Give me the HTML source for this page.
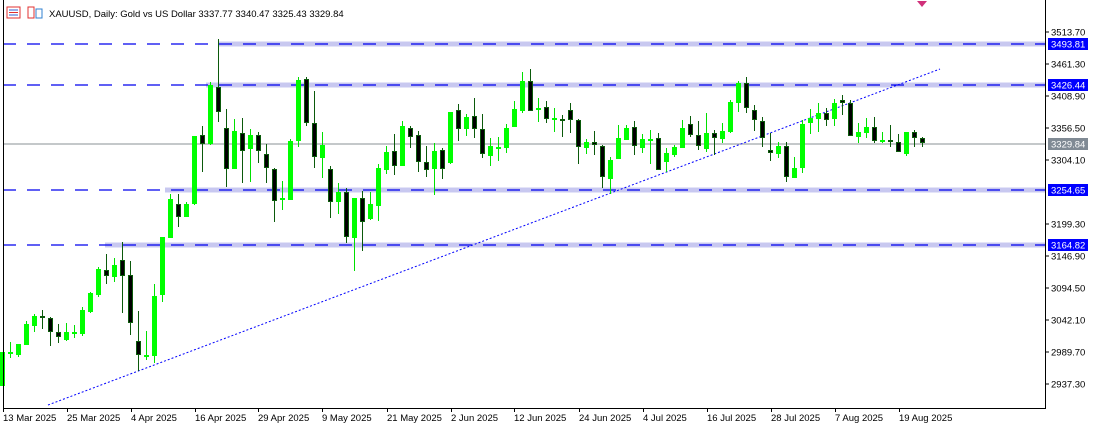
<!DOCTYPE html>
<html><head><meta charset="utf-8"><style>
html,body{margin:0;padding:0;background:#fff;width:1098px;height:424px;overflow:hidden}
svg{display:block}
text{font-family:"Liberation Sans",sans-serif;font-size:9.5px}
</style></head><body>
<svg width="1098" height="424" xmlns="http://www.w3.org/2000/svg">
<rect x="0" y="0" width="1098" height="424" fill="#fff"/>
<rect x="218" y="41.5" width="827" height="5" fill="#c8c8f0"/>
<rect x="206" y="82.5" width="839" height="5" fill="#c8c8f0"/>
<rect x="165" y="187.5" width="880" height="5" fill="#c8c8f0"/>
<rect x="105" y="242.5" width="940" height="5" fill="#c8c8f0"/>
<g stroke="#0000ee" stroke-width="1.3" stroke-dasharray="13,11">
<line x1="3" y1="44" x2="1045" y2="44"/>
<line x1="3" y1="85" x2="1045" y2="85"/>
<line x1="3" y1="190" x2="1045" y2="190"/>
<line x1="3" y1="245" x2="1045" y2="245"/>
</g>
<line x1="3" y1="144" x2="1045" y2="144" stroke="#8a9096" stroke-width="1"/>
<line x1="48" y1="405" x2="940" y2="69" stroke="#0000ff" stroke-width="1" stroke-dasharray="2,2"/>

<path fill="none" stroke="#00e000" stroke-width="1" d="M2.5 352V386M10.5 342V358M18.5 344V357M26.5 321V345M34.5 314V332M66.5 323V341M74.5 325V338M82.5 307V336M90.5 292V313M98.5 267V297M114.5 258V282M146.5 331V360M154.5 284V363M162.5 237V302M170.5 194V238M186.5 202V217M194.5 136V205M210.5 82V145M234.5 119V169M250.5 129V182M282.5 181V210M290.5 139V200M298.5 77V147M322.5 132V178M338.5 183V214M354.5 198V271M370.5 192V220M378.5 164V221M386.5 146V174M402.5 121V166M434.5 143V195M450.5 112V164M466.5 114V136M490.5 138V166M498.5 137V161M506.5 124V153M514.5 101V127M522.5 72V113M538.5 98V122M554.5 108V132M586.5 139V154M610.5 157V194M618.5 125V159M626.5 125V140M642.5 134V153M650.5 130V164M666.5 148V172M674.5 145V157M682.5 120V148M706.5 113V152M722.5 123V143M730.5 100V133M738.5 81V112M778.5 142V158M794.5 157V178M802.5 120V173M810.5 109V134M818.5 103V132M834.5 99V126M858.5 123V143M866.5 118V138M882.5 132V143M906.5 132V156"/>
<path fill="none" stroke="#00ff00" stroke-width="5" d="M2.5 352V386M10.5 352V354M18.5 344V355M26.5 324V345M34.5 316V326M66.5 332V340M74.5 332V334M82.5 310V334M90.5 293V312M98.5 269V295M114.5 265V277M146.5 355V357M154.5 296V356M162.5 237V295M170.5 199V238M186.5 204V217M194.5 136V204M210.5 85V144M234.5 131V169M250.5 135V149M282.5 198V200M290.5 141V200M298.5 80V141M322.5 145V158M338.5 192V202M354.5 198V238M370.5 204V219M378.5 168V206M386.5 152V170M402.5 126V166M434.5 151V169M450.5 112V163M466.5 117V129M490.5 146V156M498.5 147V149M506.5 128V148M514.5 109V127M522.5 81V111M538.5 108V110M554.5 118V120M586.5 142V148M610.5 160V179M618.5 138V159M626.5 128V140M642.5 139V148M650.5 139V141M666.5 153V162M674.5 147V155M682.5 128V148M706.5 133V149M722.5 131V139M730.5 102V132M738.5 83V103M778.5 146V154M794.5 168V178M802.5 124V168M810.5 118V123M818.5 113V119M834.5 103V119M858.5 132V137M866.5 127V133M882.5 140V142M906.5 132V154"/>

<path fill="none" stroke="#0b5a0b" stroke-width="1" d="M42.5 310V329M50.5 317V346M58.5 324V343M106.5 254V284M122.5 242V313M130.5 261V335M138.5 311V371M178.5 194V227M202.5 126V172M218.5 39V122M226.5 109V187M242.5 118V183M258.5 132V163M266.5 144V183M274.5 168V222M306.5 77V126M314.5 91V168M330.5 166V218M346.5 188V243M362.5 191V251M394.5 134V175M410.5 126V148M418.5 131V172M426.5 146V177M442.5 148V179M458.5 104V141M474.5 98V138M482.5 114V158M530.5 69V111M546.5 101V123M562.5 115V137M570.5 103V133M578.5 119V164M594.5 131V155M602.5 145V188M634.5 121V155M658.5 133V170M690.5 116V137M698.5 121V150M714.5 130V155M746.5 77V113M754.5 105V131M762.5 117V147M770.5 133V161M786.5 142V182M826.5 108V126M842.5 95V115M850.5 100V136M874.5 117V143M890.5 125V147M898.5 134V152M914.5 130V147M922.5 137V147"/>
<path fill="none" stroke="#0b5a0b" stroke-width="5" d="M42.5 316V318M50.5 318V332M58.5 332V337M106.5 270V276M122.5 260V276M130.5 275V323M138.5 341V355M178.5 204V217M202.5 135V144M218.5 87V112M226.5 128V169M242.5 133V151M258.5 135V151M266.5 154V168M274.5 169V201M306.5 79V123M314.5 123V157M330.5 169V202M346.5 192V237M362.5 198V222M394.5 151V166M410.5 128V137M418.5 135V162M426.5 162V170M442.5 150V169M458.5 110V129M474.5 116V129M482.5 129V154M530.5 81V111M546.5 107V119M562.5 119V121M570.5 110V120M578.5 120V147M594.5 142V145M602.5 146V177M634.5 127V146M658.5 138V170M690.5 124V135M698.5 135V146M714.5 133V138M746.5 83V108M754.5 110V120M762.5 121V138M770.5 150V153M786.5 146V177M826.5 113V120M842.5 100V103M850.5 103V136M874.5 127V141M890.5 140V142M898.5 142V152M914.5 132V138M922.5 138V143"/>
<path fill="none" stroke="#000" stroke-width="3" d="M50.5 319V331M58.5 333V336M106.5 271V275M122.5 261V275M130.5 276V322M138.5 342V354M178.5 205V216M202.5 136V143M218.5 88V111M226.5 129V168M242.5 134V150M258.5 136V150M266.5 155V167M274.5 170V200M306.5 80V122M314.5 124V156M330.5 170V201M346.5 193V236M362.5 199V221M394.5 152V165M410.5 129V136M418.5 136V161M426.5 163V169M442.5 151V168M458.5 111V128M474.5 117V128M482.5 130V153M530.5 82V110M546.5 108V118M570.5 111V119M578.5 121V146M594.5 143V144M602.5 147V176M634.5 128V145M658.5 139V169M690.5 125V134M698.5 136V145M714.5 134V137M746.5 84V107M754.5 111V119M762.5 122V137M770.5 151V152M786.5 147V176M826.5 114V119M842.5 101V102M850.5 104V135M874.5 128V140M898.5 143V151M914.5 133V137M922.5 139V142"/>

<line x1="3.5" y1="0" x2="3.5" y2="408" stroke="#000"/>
<line x1="1045.5" y1="0" x2="1045.5" y2="408" stroke="#000"/>
<line x1="3" y1="408.5" x2="1046" y2="408.5" stroke="#000"/>
<polygon points="917,1 927,1 922,7" fill="#d0307a"/>
<rect x="7" y="7" width="13" height="11" fill="#fff" stroke="#e03030"/>
<line x1="9" y1="10" x2="18" y2="10" stroke="#3060d0"/><line x1="9" y1="12.5" x2="18" y2="12.5" stroke="#e03030"/><line x1="9" y1="15" x2="18" y2="15" stroke="#3060d0"/>
<rect x="28" y="7" width="6" height="11" fill="#fff" stroke="#e03030"/>
<rect x="36" y="9" width="6" height="9" fill="#fff" stroke="#3080d0"/>
<text x="49" y="17" font-size="10.3">XAUUSD, Daily:  Gold vs US Dollar   3337.77 3340.47 3325.43 3329.84</text>
<g stroke="#000">
<line x1="1045" y1="32" x2="1049" y2="32"/><line x1="1045" y1="64" x2="1049" y2="64"/>
<line x1="1045" y1="96" x2="1049" y2="96"/><line x1="1045" y1="128" x2="1049" y2="128"/>
<line x1="1045" y1="160" x2="1049" y2="160"/><line x1="1045" y1="224" x2="1049" y2="224"/>
<line x1="1045" y1="256" x2="1049" y2="256"/><line x1="1045" y1="288" x2="1049" y2="288"/>
<line x1="1045" y1="320" x2="1049" y2="320"/><line x1="1045" y1="352" x2="1049" y2="352"/>
<line x1="1045" y1="384" x2="1049" y2="384"/>
</g>
<g fill="#000">
<text x="1051" y="35.5">3513.70</text><text x="1051" y="67.5">3461.30</text>
<text x="1051" y="99.5">3408.90</text><text x="1051" y="131.5">3356.50</text>
<text x="1051" y="163.5">3304.10</text><text x="1051" y="227.5">3199.30</text>
<text x="1051" y="259.5">3146.90</text><text x="1051" y="291.5">3094.50</text>
<text x="1051" y="323.5">3042.10</text><text x="1051" y="355.5">2989.70</text>
<text x="1051" y="387.5">2937.30</text>
</g>
<rect x="1048" y="38" width="40" height="12" fill="#0000ff"/><text x="1051" y="47.5" fill="#fff">3493.81</text>
<rect x="1048" y="79" width="40" height="12" fill="#0000ff"/><text x="1051" y="88.5" fill="#fff">3426.44</text>
<rect x="1048" y="138" width="40" height="12" fill="#808a94"/><text x="1051" y="147.5" fill="#fff">3329.84</text>
<rect x="1048" y="184" width="40" height="12" fill="#0000ff"/><text x="1051" y="193.5" fill="#fff">3254.65</text>
<rect x="1048" y="239" width="40" height="12" fill="#0000ff"/><text x="1051" y="248.5" fill="#fff">3164.82</text>
<g stroke="#000">
<line x1="3.5" y1="408" x2="3.5" y2="412"/><line x1="67.5" y1="408" x2="67.5" y2="412"/><line x1="131.5" y1="408" x2="131.5" y2="412"/>
<line x1="195.5" y1="408" x2="195.5" y2="412"/><line x1="258.5" y1="408" x2="258.5" y2="412"/><line x1="322.5" y1="408" x2="322.5" y2="412"/>
<line x1="387.5" y1="408" x2="387.5" y2="412"/><line x1="451.5" y1="408" x2="451.5" y2="412"/><line x1="514.5" y1="408" x2="514.5" y2="412"/>
<line x1="579.5" y1="408" x2="579.5" y2="412"/><line x1="643.5" y1="408" x2="643.5" y2="412"/><line x1="707.5" y1="408" x2="707.5" y2="412"/>
<line x1="771.5" y1="408" x2="771.5" y2="412"/><line x1="835.5" y1="408" x2="835.5" y2="412"/><line x1="899.5" y1="408" x2="899.5" y2="412"/>
</g>
<g fill="#000">
<text x="3" y="421">13 Mar 2025</text><text x="67" y="421">25 Mar 2025</text><text x="131" y="421">4 Apr 2025</text>
<text x="195" y="421">16 Apr 2025</text><text x="258" y="421">29 Apr 2025</text><text x="322" y="421">9 May 2025</text>
<text x="387" y="421">21 May 2025</text><text x="451" y="421">2 Jun 2025</text><text x="514" y="421">12 Jun 2025</text>
<text x="579" y="421">24 Jun 2025</text><text x="643" y="421">4 Jul 2025</text><text x="707" y="421">16 Jul 2025</text>
<text x="771" y="421">28 Jul 2025</text><text x="835" y="421">7 Aug 2025</text><text x="899" y="421">19 Aug 2025</text>
</g>
</svg>
</body></html>
